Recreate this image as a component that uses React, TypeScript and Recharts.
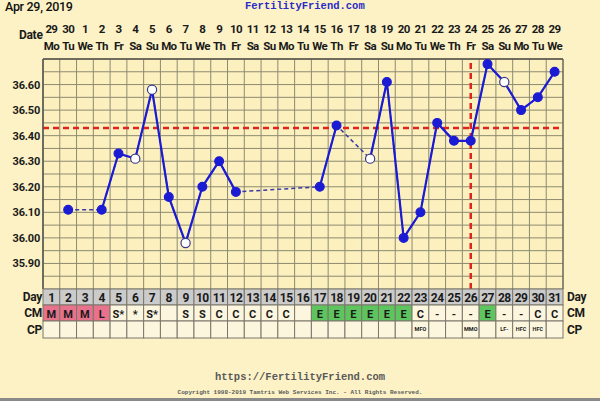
import React from "react";
import {
  LineChart,
  Line,
  XAxis,
  YAxis,
  CartesianGrid,
  ReferenceLine,
} from "recharts";

const days = [1, 2, 3, 4, 5, 6, 7, 8, 9, 10, 11, 12, 13, 14, 15, 16, 17, 18, 19, 20, 21, 22, 23, 24, 25, 26, 27, 28, 29, 30, 31];
const dates = ["29", "30", "1", "2", "3", "4", "5", "6", "7", "8", "9", "10", "11", "12", "13", "14", "15", "16", "17", "18", "19", "20", "21", "22", "23", "24", "25", "26", "27", "28", "29"];
const weekdays = ["Mo", "Tu", "We", "Th", "Fr", "Sa", "Su", "Mo", "Tu", "We", "Th", "Fr", "Sa", "Su", "Mo", "Tu", "We", "Th", "Fr", "Sa", "Su", "Mo", "Tu", "We", "Th", "Fr", "Sa", "Su", "Mo", "Tu", "We"];
const temps = [null, 36.11, null, 36.11, 36.33, 36.31, 36.58, 36.16, 35.98, 36.2, 36.3, 36.18, null, null, null, null, 36.2, 36.44, null, 36.31, 36.61, 36.0, 36.1, 36.45, 36.38, 36.38, 36.68, 36.61, 36.5, 36.55, 36.65];
const openDays = [6, 7, 9, 20, 28];
const cmCodes = ["M", "M", "M", "L", "S*", "*", "S*", "", "S", "S", "C", "C", "C", "C", "C", "", "E", "E", "E", "E", "E", "E", "C", "-", "-", "-", "E", "-", "-", "C", "C"];
const cpCodes = ["", "", "", "", "", "", "", "", "", "", "", "", "", "", "", "", "", "", "", "", "", "", "MFO", "", "", "MMO", "", "LF-", "HFC", "HFC", ""];
const tempLabels = ["35.90", "36.00", "36.10", "36.20", "36.30", "36.40", "36.50", "36.60"];
const gridTemps = [35.8, 35.85, 35.9, 35.95, 36.0, 36.05, 36.1, 36.15, 36.2, 36.25, 36.3, 36.35, 36.4, 36.45, 36.5, 36.55, 36.6, 36.65, 36.7];
const coverline = 36.43;
const ovulationDay = 26;

const data = days.map((d, i) => ({ day: d, temp: temps[i] }));
const colBounds = [0.5, ...days.map((d) => d + 0.5)];

const W = 600;
const H = 401;
const PLOT_L = 43;
const PLOT_R = 563;
const PLOT_B = 289;
const COL = (PLOT_R - PLOT_L) / days.length;
const FONT = "Roboto, 'Liberation Sans', Arial, sans-serif";
const BLUE = "#1b1bd4";

const cmFill = (c: string) => {
  if (c === "M" || c === "L") return "#e8718b";
  if (c === "E") return "#5ec45e";
  return "#fdf6df";
};

const DateTick = (props: any) => {
  const { x, index } = props;
  return (
    <g fontFamily={FONT} fontWeight="bold" fontSize={11.5} fill="#1a1a1a" textAnchor="middle" letterSpacing={-0.6}>
      <text x={x} y={33}>{dates[index]}</text>
      <text x={x} y={50}>{weekdays[index]}</text>
    </g>
  );
};

const TableTick = (props: any) => {
  const { x, index } = props;
  const left = x - COL / 2;
  const cm = cmCodes[index];
  return (
    <g fontFamily={FONT} fontWeight="bold" textAnchor="middle" fill="#1a1a1a">
      <rect x={left} y={PLOT_B} width={COL} height={16} fill="#cbcbcb" stroke="#7a776a" strokeWidth={1} />
      <rect x={left} y={PLOT_B + 16} width={COL} height={16} fill={cmFill(cm)} stroke="#7a776a" strokeWidth={1} />
      <rect x={left} y={PLOT_B + 32} width={COL} height={17} fill="#fdf6df" stroke="#7a776a" strokeWidth={1} />
      <text x={x} y={PLOT_B + 13} fontSize={12} letterSpacing={-0.5}>{days[index]}</text>
      <text x={x} y={PLOT_B + 29} fontSize={11}>{cm}</text>
      <text x={x} y={PLOT_B + 42} fontSize={5.5}>{cpCodes[index]}</text>
    </g>
  );
};

const TempTick = (props: any) => {
  const { x, y, payload, textAnchor } = props;
  const txt = Number(payload.value).toFixed(2);
  if (!tempLabels.includes(txt)) return <g />;
  return (
    <text x={x} y={y} dy={4} textAnchor={textAnchor} fontFamily={FONT} fontWeight="bold" fontSize={11} fill="#1a1a1a" letterSpacing={-0.2}>
      {txt}
    </text>
  );
};

const renderDot = (props: any) => {
  const { cx, cy, index, value } = props;
  if (value == null || cx == null || cy == null) return <g key={index} />;
  const open = openDays.includes(days[index]);
  return (
    <circle
      key={index}
      cx={cx}
      cy={cy}
      r={open ? 4.6 : 4.4}
      fill={open ? "#ffffff" : BLUE}
      stroke={open ? "#3a3a8a" : BLUE}
      strokeWidth={1.2}
    />
  );
};

const label = (text: string, style: React.CSSProperties) => (
  <div style={{ position: "absolute", fontFamily: FONT, fontWeight: "bold", fontSize: 12, color: "#1a1a1a", lineHeight: "14px", letterSpacing: -0.3, ...style }}>
    {text}
  </div>
);

export default function App() {
  return (
    <div style={{ position: "absolute", left: 0, top: 0, width: W, height: H, background: "#fcf2c6", overflow: "hidden" }}>
      <div style={{ position: "absolute", left: 5, top: -1, fontFamily: FONT, fontWeight: 500, fontSize: 12.5, color: "#111", letterSpacing: -0.3 }}>Apr 29, 2019</div>
      <div style={{ position: "absolute", left: 245, top: 0, fontFamily: "'Liberation Mono', monospace", fontWeight: "bold", fontSize: 10.5, color: "#2b2bc8" }}>
        FertilityFriend.com
      </div>
      {label("Date", { left: 19, top: 28 })}

      <LineChart width={W} height={H} data={data} margin={{ top: 14, right: 0, bottom: 62, left: 3 }}>
        <XAxis xAxisId="grid" dataKey="day" type="number" domain={[0.5, 31.5]} ticks={colBounds} interval={0} hide />
        <CartesianGrid xAxisId="grid" yAxisId="left" stroke="#8d8a72" strokeWidth={1} fill="#fbf0be" fillOpacity={1} />
        <XAxis
          xAxisId="top"
          orientation="top"
          dataKey="day"
          type="number"
          domain={[0.5, 31.5]}
          ticks={days}
          interval={0}
          height={45}
          axisLine={{ stroke: "#55524a", strokeWidth: 1.5 }}
          tickLine={false}
          tick={<DateTick />}
        />
        <XAxis
          xAxisId="table"
          orientation="bottom"
          dataKey="day"
          type="number"
          domain={[0.5, 31.5]}
          ticks={days}
          interval={0}
          height={50}
          axisLine={false}
          tickLine={false}
          tick={<TableTick />}
        />
        <YAxis
          yAxisId="left"
          orientation="left"
          type="number"
          domain={[35.8, 36.7]}
          ticks={gridTemps}
          interval={0}
          width={40}
          axisLine={{ stroke: "#55524a", strokeWidth: 1.5 }}
          tickLine={false}
          tickSize={0}
          tickMargin={3}
          tick={<TempTick />}
        />
        <YAxis
          yAxisId="right"
          orientation="right"
          type="number"
          domain={[35.8, 36.7]}
          ticks={gridTemps}
          interval={0}
          width={37}
          axisLine={{ stroke: "#55524a", strokeWidth: 1 }}
          tickLine={false}
          tickSize={0}
          tickMargin={5}
          tick={<TempTick />}
        />
        <ReferenceLine xAxisId="grid" yAxisId="left" y={coverline} stroke="#e0231c" strokeWidth={2.5} strokeDasharray="6 4" />
        <ReferenceLine xAxisId="grid" yAxisId="left" x={ovulationDay} stroke="#e0231c" strokeWidth={2.5} strokeDasharray="6 4" />
        <Line
          xAxisId="grid"
          yAxisId="left"
          dataKey="temp"
          type="linear"
          connectNulls
          stroke="#3a3aa6"
          strokeWidth={1.5}
          strokeDasharray="4 3"
          dot={false}
          activeDot={false}
          isAnimationActive={false}
        />
        <Line
          xAxisId="grid"
          yAxisId="left"
          dataKey="temp"
          type="linear"
          connectNulls={false}
          stroke={BLUE}
          strokeWidth={2.2}
          dot={renderDot}
          activeDot={false}
          isAnimationActive={false}
        />
      </LineChart>

      {label("Day", { right: W - 42, top: 290 })}
      {label("CM", { right: W - 42, top: 306 })}
      {label("CP", { right: W - 42, top: 323 })}
      {label("Day", { left: 567, top: 290 })}
      {label("CM", { left: 567, top: 306 })}
      {label("CP", { left: 567, top: 323 })}

      <div style={{ position: "absolute", left: 0, width: W, top: 371, textAlign: "center", fontFamily: "'Liberation Mono', monospace", fontWeight: "bold", fontSize: 10.5, color: "#5a5a5a" }}>
        https://FertilityFriend.com
      </div>
      <div style={{ position: "absolute", left: 0, width: W, top: 389, textAlign: "center", fontFamily: "'Liberation Mono', monospace", fontWeight: "bold", fontSize: 6, color: "#5a5a5a" }}>
        Copyright 1998-2019 Tamtris Web Services Inc. - All Rights Reserved.
      </div>
      <div style={{ position: "absolute", left: 0, width: W, top: 398, height: 3, background: "#8a8a8a" }} />
    </div>
  );
}
